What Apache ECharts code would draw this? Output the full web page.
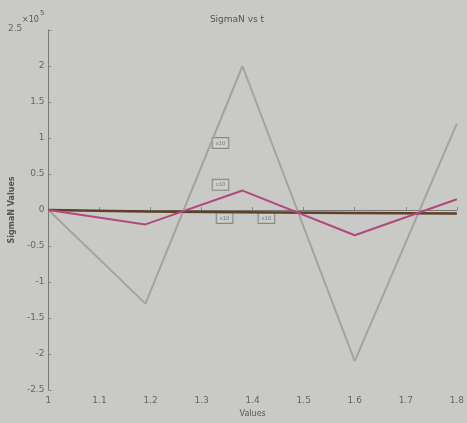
<!DOCTYPE html>
<html>
<head>
<meta charset="utf-8">
<script src="https://cdn.jsdelivr.net/npm/echarts@6/dist/echarts.min.js"></script>
<style>
  html, body { margin: 0; padding: 0; background: #c9c9c6; }
  #chart { width: 467px; height: 423px; }
</style>
</head>
<body>
<div id="chart"></div>
<script>
// x positions of the sampled points
const xValues = [1, 1.19, 1.38, 1.6, 1.8]
// series values (x10^5)
const grayValues = [0, -1.3, 2.0, -2.1, 1.2]
const pinkValues = [0, -0.2, 0.27, -0.35, 0.15]
const brownValues = [0, -0.02, -0.03, -0.04, -0.05]
// small boxed annotations: [x, y, text]
const notes = [
  [1.337, 0.93, 'x10'],
  [1.337, 0.35, 'x10'],
  [1.345, -0.11, 'x10'],
  [1.427, -0.11, 'x10'],
]

const chart = echarts.init(document.getElementById('chart'))

const toPairs = vals => xValues.map((x, i) => [x, vals[i]])

chart.setOption({
  backgroundColor: '#c9c9c6',
  animation: false,
  title: {
    text: 'SigmaN vs t',
    left: 232,
    textAlign: 'center',
    top: 10,
    textStyle: { fontSize: 9, fontWeight: 'normal', color: '#555', fontFamily: 'DejaVu Sans' },
  },
  graphic: [
    {
      type: 'text', left: 8, top: 24,
      style: { text: '2.5', fontSize: 9, fill: '#666', fontFamily: 'DejaVu Sans' },
    },
    {
      type: 'text', left: 22, top: 16,
      style: { text: '\u00d710', fontSize: 8, fill: '#555', fontFamily: 'DejaVu Sans' },
    },
    {
      type: 'text', left: 40, top: 10,
      style: { text: '5', fontSize: 7, fill: '#555', fontFamily: 'DejaVu Sans' },
    },
  ],
  grid: { left: 42, right: 7, top: 30, bottom: 33 },
  xAxis: {
    type: 'value',
    min: 1,
    max: 1.8,
    interval: 0.1,
    name: 'Values',
    nameLocation: 'middle',
    nameGap: 18,
    nameTextStyle: { fontSize: 8, color: '#555', fontFamily: 'DejaVu Sans' },
    axisLine: { lineStyle: { color: '#777' } },
    axisTick: { inside: true, length: 3, lineStyle: { color: '#888' } },
    axisLabel: {
      fontSize: 9, color: '#666', margin: 6, fontFamily: 'DejaVu Sans',
      formatter: v => String(Math.round(v * 10) / 10),
    },
    splitLine: { show: false },
  },
  yAxis: {
    type: 'value',
    min: -2.5,
    max: 2.5,
    interval: 0.5,
    name: 'SigmaN Values',
    nameLocation: 'middle',
    nameGap: 30,
    nameTextStyle: { fontSize: 8, color: '#555', fontWeight: 'bold', fontFamily: 'DejaVu Sans' },
    axisLine: { show: true, lineStyle: { color: '#777' } },
    axisTick: { show: true, inside: true, length: 3, lineStyle: { color: '#888' } },
    axisLabel: {
      fontSize: 9, color: '#666', margin: 4, fontFamily: 'DejaVu Sans',
      formatter: v => (v === 2.5 ? '' : String(Math.round(v * 10) / 10)),
    },
    splitLine: { show: false },
  },
  series: [
    {
      type: 'line',
      data: toPairs(grayValues),
      symbol: 'none',
      lineStyle: { color: '#a3a3a3', width: 2 },
    },
    {
      type: 'line',
      data: toPairs(brownValues),
      symbol: 'none',
      lineStyle: { color: '#5e3f27', width: 2.5 },
    },
    {
      type: 'line',
      data: toPairs(pinkValues),
      symbol: 'none',
      lineStyle: { color: '#b3487f', width: 2 },
    },
    {
      type: 'scatter',
      data: notes.map(n => ({ value: [n[0], n[1]], name: n[2] })),
      symbolSize: 0,
      label: {
        show: true,
        position: 'inside',
        formatter: p => p.name,
        fontSize: 6,
        color: '#666',
        borderColor: '#777',
        borderWidth: 1,
        padding: [2, 3],
        backgroundColor: '#cfcfcc',
      },
    },
  ],
})
</script>
</body>
</html>
